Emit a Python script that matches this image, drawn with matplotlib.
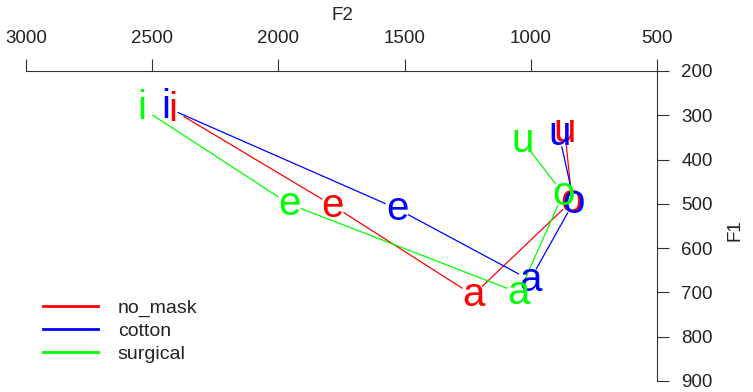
import numpy as np
import matplotlib
matplotlib.use('Agg')
import matplotlib.pyplot as plt
from matplotlib.lines import Line2D

plt.rcParams['font.family'] = ['Liberation Sans', 'DejaVu Sans']

# vowel formants (Hz), order i e a o u
vowels = ['i', 'e', 'a', 'o', 'u']
series = ['no_mask', 'cotton', 'surgical']
colors = ['#FF0000', '#0000FF', '#00FF00']

f2_no_mask = [2418, 1784, 1229, 837, 865]
f1_no_mask = [288, 504, 706, 493, 336]
f2_cotton = [2445, 1530, 1003, 829, 888]
f1_cotton = [282, 511, 672, 495, 343]
f2_surgical = [2540, 1958, 1047, 872, 1031]
f1_surgical = [284, 500, 701, 477, 359]

f2_ticks = [3000, 2500, 2000, 1500, 1000, 500]
f1_ticks = [200, 300, 400, 500, 600, 700, 800, 900]

W, H = 753, 392
fig = plt.figure(figsize=(W / 100, H / 100), dpi=100)
ax = fig.add_axes([26 / W, 11 / H, 631 / W, 310 / H])
ax.set_xlim(3000, 500)
ax.set_ylim(900, 200)

ax.xaxis.tick_top()
ax.yaxis.tick_right()
ax.spines['left'].set_visible(False)
ax.spines['bottom'].set_visible(False)
for s in ['top', 'right']:
    ax.spines[s].set_linewidth(0.8)
    ax.spines[s].set_color('#333333')
ax.set_xticks(f2_ticks)
ax.set_yticks(f1_ticks)
ax.tick_params(direction='out', length=8.6, width=0.8, color='#333333',
               pad=9, labelsize=13.5, labelcolor='#222222')

fig.text(342 / W, 1 - 15 / H, 'F2', ha='center', va='center',
         fontsize=13.5, color='#222222')
fig.text(735 / W, 1 - 230 / H, 'F1', ha='center', va='center',
         fontsize=13.5, color='#222222', rotation=90)


def gapped(xs, ys, gap=13):
    # lines stop short of each point, like R's type="b"
    pts = ax.transData.transform(np.column_stack([xs, ys]))
    inv = ax.transData.inverted()
    sx, sy = [], []
    for p, q in zip(pts[:-1], pts[1:]):
        d = q - p
        L = np.hypot(d[0], d[1])
        if L <= 2 * gap:
            continue
        u = d / L
        a, b = inv.transform(np.array([p + u * gap, q - u * gap]))
        sx += [a[0], b[0], np.nan]
        sy += [a[1], b[1], np.nan]
    return sx, sy


data = [(f2_no_mask, f1_no_mask), (f2_cotton, f1_cotton), (f2_surgical, f1_surgical)]
for (f2, f1), c in zip(data, colors):
    sx, sy = gapped(f2, f1)
    ax.plot(sx, sy, color=c, lw=0.9)
for (f2, f1), c in zip(data, colors):
    for v, x, y in zip(vowels, f2, f1):
        ax.text(x, y, v, color=c, fontsize=29, ha='center', va='center')

handles = [Line2D([], [], color=c, lw=2) for c in colors]
fig.legend(handles, series, loc='center left',
           bbox_to_anchor=(43 / W, 1 - 331 / H), bbox_transform=fig.transFigure,
           frameon=False, borderpad=0, borderaxespad=0, fontsize=14,
           handlelength=2.84, handletextpad=1.0, labelspacing=0.28,
           labelcolor='#222222')

fig.savefig('out.png', dpi=100)
